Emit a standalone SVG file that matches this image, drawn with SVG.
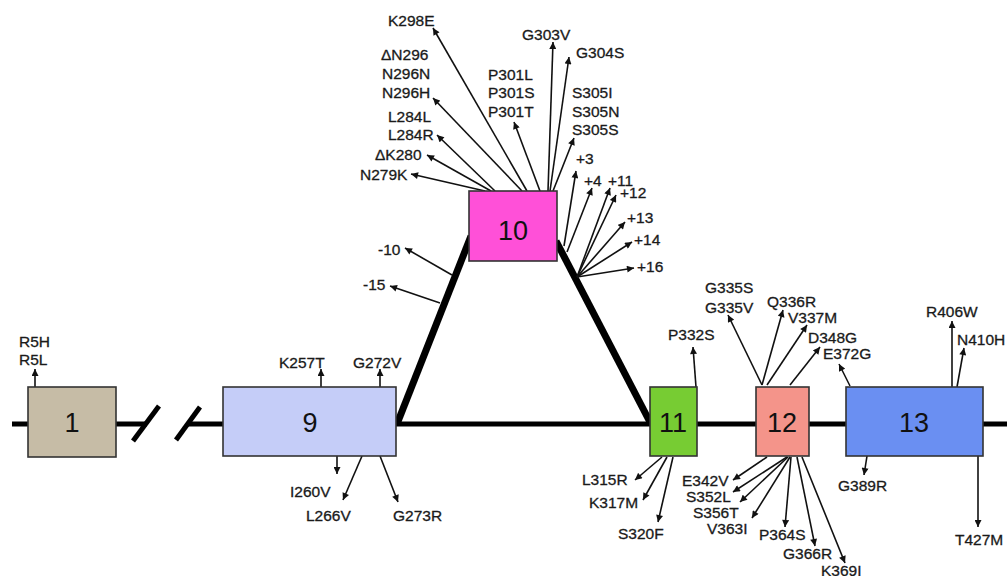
<svg xmlns="http://www.w3.org/2000/svg" width="1007" height="576" viewBox="0 0 1007 576">
<defs>
<marker id="ah" viewBox="0 0 10 10" refX="10" refY="5" markerWidth="8" markerHeight="7" markerUnits="userSpaceOnUse" orient="auto">
<path d="M0,0 L10,5 L0,10 z" fill="#111"/>
</marker>
<style>
.t{font-family:"Liberation Sans",Arial,sans-serif;font-size:15.5px;fill:#1a1a1a;stroke:#1a1a1a;stroke-width:0.3}
.n{font-family:"Liberation Sans",Arial,sans-serif;font-size:27px;fill:#111;text-anchor:middle}
.a{stroke:#111;stroke-width:1.6;fill:none;marker-end:url(#ah)}
.bb{stroke:#000;stroke-width:5;fill:none}
.tk{stroke:#000;stroke-width:7;fill:none}
.box{stroke:#333;stroke-width:1.6}
</style>
</defs>
<rect width="1007" height="576" fill="#fff"/>
<g id="connectors">
<line class="bb" x1="12" y1="424" x2="147" y2="424"/>
<line class="bb" x1="188" y1="424" x2="1007" y2="424"/>
<line class="bb" x1="133" y1="441" x2="159" y2="406"/>
<line class="bb" x1="176" y1="440" x2="200" y2="407"/>
<line class="tk" x1="397" y1="424" x2="471" y2="236"/>
<line class="tk" x1="556" y1="241" x2="651" y2="424"/>
<line class="a" x1="35" y1="387" x2="35" y2="369"/>
<line class="a" x1="321" y1="387" x2="321" y2="369"/>
<line class="a" x1="380" y1="387" x2="380" y2="369"/>
<line class="a" x1="337" y1="456" x2="337" y2="474"/>
<line class="a" x1="362" y1="456" x2="343" y2="500"/>
<line class="a" x1="380" y1="456" x2="398" y2="502"/>
<line class="a" x1="485" y1="191" x2="411" y2="174"/>
<line class="a" x1="491" y1="191" x2="427" y2="155"/>
<line class="a" x1="495" y1="191" x2="437" y2="135"/>
<line class="a" x1="522" y1="191" x2="433" y2="98"/>
<line class="a" x1="527" y1="191" x2="433" y2="28"/>
<line class="a" x1="540" y1="191" x2="514" y2="122"/>
<line class="a" x1="548" y1="191" x2="553" y2="42"/>
<line class="a" x1="550" y1="191" x2="569" y2="57"/>
<line class="a" x1="553" y1="191" x2="574" y2="138"/>
<line class="a" x1="564" y1="246" x2="576" y2="171"/>
<line class="a" x1="567" y1="252" x2="592" y2="188"/>
<line class="a" x1="577" y1="277" x2="610" y2="188"/>
<line class="a" x1="577" y1="277" x2="616" y2="195"/>
<line class="a" x1="577" y1="277" x2="625" y2="222"/>
<line class="a" x1="577" y1="277" x2="632" y2="242"/>
<line class="a" x1="577" y1="277" x2="634" y2="268"/>
<line class="a" x1="452" y1="275" x2="405" y2="248"/>
<line class="a" x1="440" y1="303" x2="390" y2="286"/>
<line class="a" x1="696" y1="387" x2="693" y2="347"/>
<line class="a" x1="662" y1="457" x2="635" y2="480"/>
<line class="a" x1="667" y1="457" x2="643" y2="500"/>
<line class="a" x1="673" y1="457" x2="658" y2="522"/>
<line class="a" x1="762" y1="385" x2="728" y2="315"/>
<line class="a" x1="762" y1="385" x2="783" y2="310"/>
<line class="a" x1="767" y1="385" x2="807" y2="325"/>
<line class="a" x1="790" y1="385" x2="820" y2="347"/>
<line class="a" x1="767" y1="457" x2="733" y2="480"/>
<line class="a" x1="787" y1="457" x2="733" y2="492"/>
<line class="a" x1="788" y1="457" x2="740" y2="502"/>
<line class="a" x1="790" y1="457" x2="752" y2="518"/>
<line class="a" x1="791" y1="457" x2="785" y2="527"/>
<line class="a" x1="797" y1="457" x2="815" y2="546"/>
<line class="a" x1="802" y1="457" x2="845" y2="563"/>
<line class="a" x1="850" y1="386" x2="839" y2="364"/>
<line class="a" x1="952" y1="387" x2="952" y2="321"/>
<line class="a" x1="957" y1="387" x2="964" y2="348"/>
<line class="a" x1="867" y1="456" x2="864" y2="475"/>
<line class="a" x1="978" y1="456" x2="978" y2="527"/>
</g>
<g id="exon1">
<rect class="box" x="28" y="387" width="88" height="70" fill="#c6bca6"/>
<text class="n" x="72" y="432">1</text>
<text class="t" x="19" y="347">R5H</text>
<text class="t" x="19" y="365">R5L</text>
</g>
<g id="exon9">
<rect class="box" x="223" y="387" width="173" height="69" fill="#c5cdf8"/>
<text class="n" x="310" y="432">9</text>
<text class="t" x="279" y="368">K257T</text>
<text class="t" x="353" y="368">G272V</text>
<text class="t" x="290" y="497">I260V</text>
<text class="t" x="306" y="521">L266V</text>
<text class="t" x="393" y="521">G273R</text>
</g>
<g id="exon10">
<rect class="box" x="469" y="191" width="88" height="70" fill="#ff50d8"/>
<text class="n" x="513" y="240">10</text>
<text class="t" x="388" y="26">K298E</text>
<text class="t" x="381" y="60">ΔN296</text>
<text class="t" x="382" y="79">N296N</text>
<text class="t" x="382" y="98">N296H</text>
<text class="t" x="388" y="122">L284L</text>
<text class="t" x="388" y="140">L284R</text>
<text class="t" x="375" y="160">ΔK280</text>
<text class="t" x="360" y="180">N279K</text>
<text class="t" x="488" y="80">P301L</text>
<text class="t" x="488" y="98">P301S</text>
<text class="t" x="488" y="117">P301T</text>
<text class="t" x="522" y="40">G303V</text>
<text class="t" x="576" y="58">G304S</text>
<text class="t" x="572" y="98">S305I</text>
<text class="t" x="572" y="117">S305N</text>
<text class="t" x="572" y="135">S305S</text>
<text class="t" x="576" y="164">+3</text>
<text class="t" x="584" y="186">+4</text>
<text class="t" x="608" y="186">+11</text>
<text class="t" x="620" y="198">+12</text>
<text class="t" x="627" y="223">+13</text>
<text class="t" x="634" y="245">+14</text>
<text class="t" x="637" y="272">+16</text>
<text class="t" x="378" y="255">-10</text>
<text class="t" x="363" y="290">-15</text>
</g>
<g id="exon11">
<rect class="box" x="650" y="387" width="47" height="69" fill="#77cc33"/>
<text class="n" x="673" y="432">11</text>
<text class="t" x="668" y="340">P332S</text>
<text class="t" x="582" y="485">L315R</text>
<text class="t" x="589" y="508">K317M</text>
<text class="t" x="618" y="539">S320F</text>
</g>
<g id="exon12">
<rect class="box" x="756" y="387" width="53" height="69" fill="#f4948a"/>
<text class="n" x="782" y="432">12</text>
<text class="t" x="705" y="293">G335S</text>
<text class="t" x="705" y="313">G335V</text>
<text class="t" x="767" y="307">Q336R</text>
<text class="t" x="788" y="323">V337M</text>
<text class="t" x="808" y="343">D348G</text>
<text class="t" x="682" y="486">E342V</text>
<text class="t" x="686" y="502">S352L</text>
<text class="t" x="693" y="518">S356T</text>
<text class="t" x="707" y="534">V363I</text>
<text class="t" x="759" y="540">P364S</text>
<text class="t" x="783" y="559">G366R</text>
<text class="t" x="821" y="576">K369I</text>
</g>
<g id="exon13">
<rect class="box" x="846" y="387" width="137" height="69" fill="#6a8ff2"/>
<text class="n" x="914" y="432">13</text>
<text class="t" x="823" y="359">E372G</text>
<text class="t" x="926" y="317">R406W</text>
<text class="t" x="957" y="345">N410H</text>
<text class="t" x="838" y="491">G389R</text>
<text class="t" x="955" y="545">T427M</text>
</g>
</svg>
